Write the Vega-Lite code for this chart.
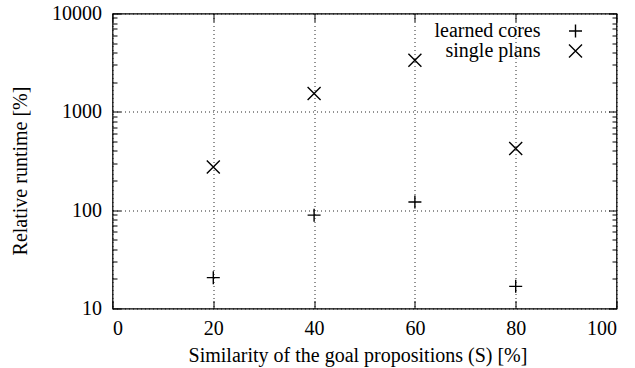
{
  "$schema": "https://vega.github.io/schema/vega-lite/v6.json",
  "width": 504,
  "height": 295,
  "autosize": "none",
  "padding": {"left": 112.5, "top": 13.5, "right": 18.5, "bottom": 59.5},
  "background": "white",
  "data": {
    "values": [
      {"s": 20, "runtime": 20.6, "series": "learned cores"},
      {"s": 40, "runtime": 89, "series": "learned cores"},
      {"s": 60, "runtime": 121, "series": "learned cores"},
      {"s": 80, "runtime": 16.8, "series": "learned cores"},
      {"s": 20, "runtime": 275, "series": "single plans"},
      {"s": 40, "runtime": 1535, "series": "single plans"},
      {"s": 60, "runtime": 3350, "series": "single plans"},
      {"s": 80, "runtime": 423, "series": "single plans"}
    ]
  },
  "config": {
    "font": "Liberation Serif",
    "view": {"stroke": "black", "strokeWidth": 1.2},
    "axis": {
      "labelFont": "Liberation Serif",
      "labelFontSize": 20,
      "titleFont": "Liberation Serif",
      "titleFontSize": 20,
      "titleFontWeight": "normal",
      "labelColor": "black",
      "titleColor": "black",
      "tickColor": "black",
      "tickWidth": 1,
      "gridColor": "black",
      "gridDash": [1, 3],
      "gridWidth": 1,
      "gridOpacity": 0.85,
      "domain": false
    }
  },
  "layer": [
    {
      "mark": {"type": "point", "filled": false, "color": "black", "strokeWidth": 1.4, "size": 169, "opacity": 1},
      "encoding": {
        "x": {
          "field": "s", "type": "quantitative",
          "scale": {"domain": [0, 100], "nice": false, "zero": false},
          "axis": {
            "orient": "bottom", "values": [0, 20, 40, 60, 80, 100],
            "title": "Similarity of the goal propositions (S) [%]",
            "grid": true, "tickSize": -8, "labelPadding": 17.5,
            "titleX": 245, "titleY": 53, "titleBaseline": "alphabetic", "titleAlign": "center"
          }
        },
        "y": {
          "field": "runtime", "type": "quantitative",
          "scale": {"type": "log", "domain": [10, 10000], "nice": false},
          "axis": {
            "orient": "left", "values": [10, 100, 1000, 10000], "format": "d",
            "title": "Relative runtime [%]",
            "grid": true, "tickSize": -8, "labelPadding": 19,
            "titleX": -92, "titleY": 157, "titleAngle": -90, "titleBaseline": "middle", "titleAlign": "center"
          }
        },
        "shape": {
          "field": "series", "type": "nominal",
          "scale": {"domain": ["learned cores", "single plans"], "range": ["M-1,0L1,0M0,-1L0,1", "M-1,-1L1,1M-1,1L1,-1"]},
          "legend": {
            "orient": "none", "legendX": 453, "legendY": 7.5, "title": null, "padding": 0,
            "labelFont": "Liberation Serif", "labelFontSize": 20, "labelColor": "black",
            "labelAlign": "right", "labelOffset": -45,
            "symbolStrokeWidth": 1.4, "symbolStrokeColor": "black", "symbolFillColor": "transparent",
            "symbolSize": 169, "rowPadding": 0
          }
        }
      }
    },
    {
      "mark": {"type": "point", "opacity": 0},
      "encoding": {
        "x": {
          "field": "s", "type": "quantitative",
          "scale": {"domain": [0, 100], "nice": false, "zero": false},
          "axis": {"orient": "top", "values": [0, 20, 40, 60, 80, 100], "labels": false, "title": null, "grid": false, "tickSize": -8}
        },
        "y": {
          "field": "runtime", "type": "quantitative",
          "scale": {"type": "log", "domain": [10, 10000], "nice": false},
          "axis": {"orient": "right", "values": [10, 100, 1000, 10000], "labels": false, "title": null, "grid": false, "tickSize": -8}
        }
      }
    },
    {
      "mark": {"type": "point", "opacity": 0},
      "encoding": {
        "x": {
          "field": "s", "type": "quantitative",
          "scale": {"domain": [0, 100], "nice": false, "zero": false},
          "axis": null
        },
        "y": {
          "field": "runtime", "type": "quantitative",
          "scale": {"type": "log", "domain": [10, 10000], "nice": false},
          "axis": {"orient": "left", "values": [20, 30, 40, 50, 60, 70, 80, 90, 200, 300, 400, 500, 600, 700, 800, 900, 2000, 3000, 4000, 5000, 6000, 7000, 8000, 9000], "labels": false, "title": null, "grid": false, "tickSize": -4.5}
        }
      }
    },
    {
      "mark": {"type": "point", "opacity": 0},
      "encoding": {
        "x": {
          "field": "s", "type": "quantitative",
          "scale": {"domain": [0, 100], "nice": false, "zero": false},
          "axis": null
        },
        "y": {
          "field": "runtime", "type": "quantitative",
          "scale": {"type": "log", "domain": [10, 10000], "nice": false},
          "axis": {"orient": "right", "values": [20, 30, 40, 50, 60, 70, 80, 90, 200, 300, 400, 500, 600, 700, 800, 900, 2000, 3000, 4000, 5000, 6000, 7000, 8000, 9000], "labels": false, "title": null, "grid": false, "tickSize": -4.5}
        }
      }
    }
  ],
  "resolve": {"axis": {"x": "independent", "y": "independent"}}
}
